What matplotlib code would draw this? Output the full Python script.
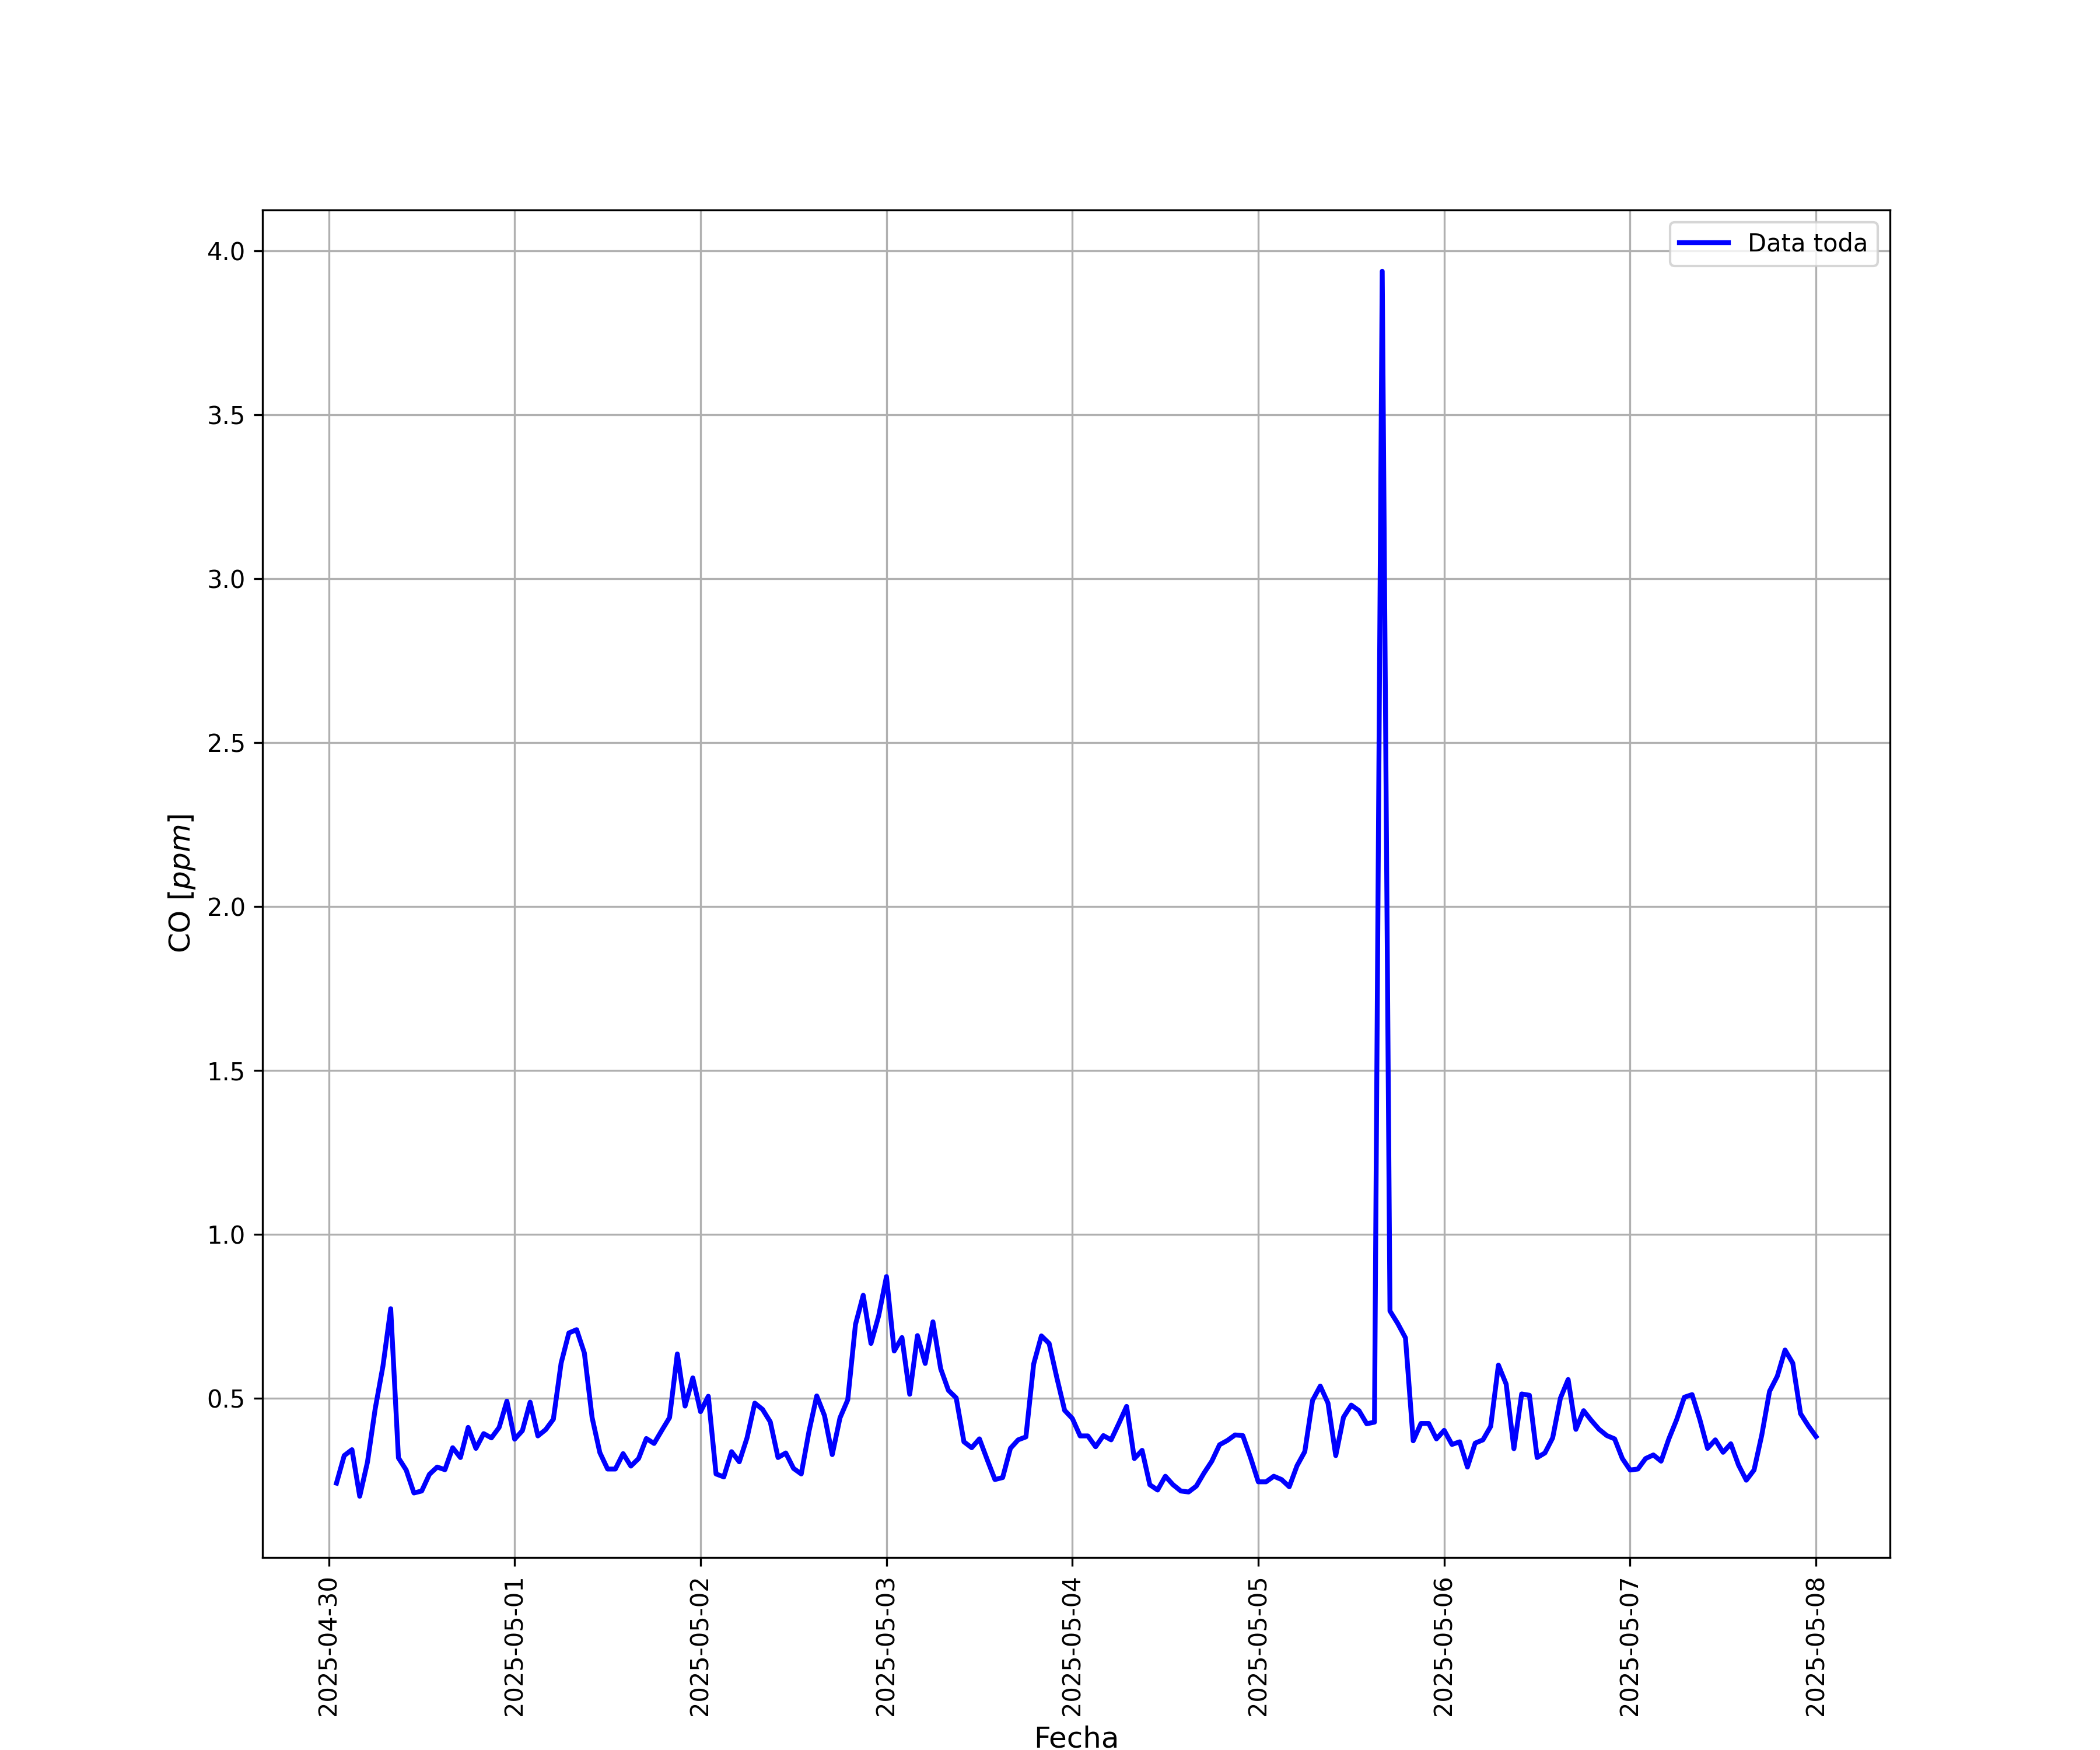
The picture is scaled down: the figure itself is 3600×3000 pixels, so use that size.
import matplotlib
matplotlib.use("Agg")
import matplotlib.pyplot as plt
import matplotlib.dates as mdates
import numpy as np
import pandas as pd

# hourly CO readings, 2025-04-30 01:00 -> 2025-05-08 00:00
inicio = "2025-04-30 01:00"
co_dia1 = [0.242, 0.326, 0.344, 0.202, 0.306, 0.469, 0.599, 0.774, 0.319, 0.282,
           0.212, 0.218, 0.269, 0.291, 0.283, 0.350, 0.320, 0.412, 0.348, 0.393,
           0.380, 0.412, 0.492, 0.376]
co_dia2 = [0.402, 0.489, 0.386, 0.405, 0.437, 0.608, 0.700, 0.710, 0.639, 0.442,
           0.335, 0.285, 0.285, 0.332, 0.294, 0.317, 0.378, 0.363, 0.403, 0.442,
           0.636, 0.477, 0.563, 0.460]
co_dia3 = [0.507, 0.270, 0.261, 0.338, 0.307, 0.380, 0.486, 0.467, 0.429, 0.320,
           0.334, 0.287, 0.270, 0.400, 0.508, 0.448, 0.329, 0.441, 0.496, 0.726,
           0.815, 0.668, 0.753, 0.872]
co_dia4 = [0.645, 0.686, 0.513, 0.692, 0.607, 0.734, 0.591, 0.525, 0.502, 0.368,
           0.350, 0.377, 0.314, 0.253, 0.259, 0.348, 0.374, 0.383, 0.605, 0.691,
           0.668, 0.563, 0.464, 0.439]
co_dia5 = [0.386, 0.386, 0.353, 0.387, 0.374, 0.424, 0.476, 0.317, 0.342, 0.237,
           0.221, 0.263, 0.237, 0.218, 0.215, 0.233, 0.273, 0.309, 0.359, 0.372,
           0.389, 0.387, 0.320, 0.246]
co_dia6 = [0.246, 0.263, 0.253, 0.231, 0.295, 0.338, 0.494, 0.538, 0.486, 0.326,
           0.443, 0.480, 0.463, 0.423, 0.428, 3.938, 0.767, 0.729, 0.685, 0.371,
           0.424, 0.424, 0.377, 0.403]
co_dia7 = [0.360, 0.368, 0.291, 0.364, 0.374, 0.415, 0.602, 0.544, 0.347, 0.514,
           0.510, 0.320, 0.334, 0.380, 0.501, 0.558, 0.406, 0.463, 0.433, 0.406,
           0.387, 0.377, 0.317, 0.282]
co_dia8 = [0.285, 0.317, 0.328, 0.309, 0.377, 0.435, 0.504, 0.512, 0.436, 0.348,
           0.374, 0.336, 0.362, 0.297, 0.251, 0.282, 0.389, 0.522, 0.568, 0.648,
           0.608, 0.454, 0.417, 0.384]

co = co_dia1 + co_dia2 + co_dia3 + co_dia4 + co_dia5 + co_dia6 + co_dia7 + co_dia8
fechas = pd.date_range(inicio, periods=len(co), freq="h")

fig = plt.figure(figsize=(12, 10))
ax = fig.add_subplot(111)
ax.plot(fechas, co, color="blue", linewidth=2, label="Data toda")
ax.xaxis.set_major_locator(mdates.DayLocator())
ax.xaxis.set_major_formatter(mdates.DateFormatter("%Y-%m-%d"))
plt.xticks(rotation=90)
ax.set_xlabel("Fecha", fontsize=12)
ax.set_ylabel("CO $[ppm]$", fontsize=12)
ax.grid(True)
ax.legend(loc="upper right")

plt.savefig("out.png", dpi=300)
